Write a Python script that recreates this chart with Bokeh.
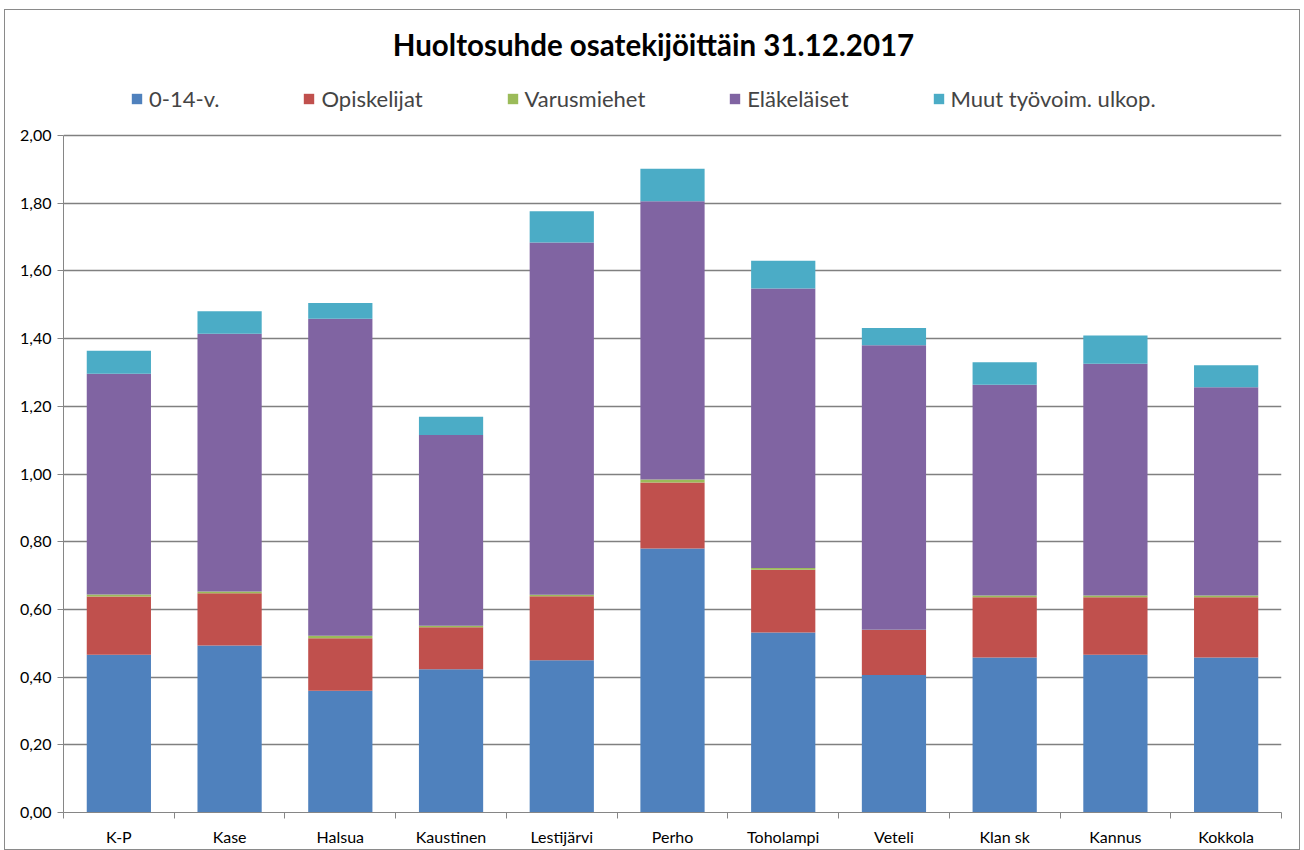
from bokeh.plotting import figure
from bokeh.models import ColumnDataSource, Legend, LegendItem, FixedTicker, Range1d, Label
from bokeh.embed import file_html
from bokeh.resources import INLINE

categories = ["K-P", "Kase", "Halsua", "Kaustinen", "Lestijärvi", "Perho",
              "Toholampi", "Veteli", "Klan sk", "Kannus", "Kokkola"]
lapset      = [0.466, 0.493, 0.360, 0.423, 0.450, 0.780, 0.532, 0.406, 0.458, 0.466, 0.458]
opiskelijat = [0.172, 0.155, 0.155, 0.124, 0.189, 0.195, 0.185, 0.133, 0.178, 0.170, 0.178]
varusmiehet = [0.006, 0.005, 0.007, 0.005, 0.004, 0.009, 0.005, 0.001, 0.005, 0.005, 0.005]
elakelaiset = [0.652, 0.761, 0.937, 0.563, 1.041, 0.822, 0.826, 0.840, 0.623, 0.685, 0.615]
muut        = [0.068, 0.067, 0.046, 0.054, 0.092, 0.096, 0.082, 0.051, 0.066, 0.083, 0.065]

series_keys = ["lapset", "opiskelijat", "varusmiehet", "elakelaiset", "muut"]
series_names = ["0-14-v.", "Opiskelijat", "Varusmiehet", "Eläkeläiset", "Muut työvoim. ulkop."]
colors = ["#4F81BD", "#C0504D", "#9BBB59", "#8064A2", "#4BACC6"]

y_ticks = [0.0, 0.2, 0.4, 0.6, 0.8, 1.0, 1.2, 1.4, 1.6, 1.8, 2.0]
y_tick_labels = ["0,00", "0,20", "0,40", "0,60", "0,80", "1,00", "1,20", "1,40", "1,60", "1,80", "2,00"]
title_text = "Huoltosuhde osatekijöittäin 31.12.2017"

FONT = "Lato"
AXIS_MAX = 2.0
# the frame reaches up to the figure top so that title and legend can sit inside it;
# the value axis itself is bounded to 0..2,00
FRAME_TOP_PX, AXIS_TOP_PX, AXIS_BOTTOM_PX = 0, 125, 802
Y_TOP = AXIS_MAX * (AXIS_BOTTOM_PX - FRAME_TOP_PX) / (AXIS_BOTTOM_PX - AXIS_TOP_PX)

xs = list(range(len(categories)))
source = ColumnDataSource(dict(x=xs, lapset=lapset, opiskelijat=opiskelijat,
                               varusmiehet=varusmiehet, elakelaiset=elakelaiset, muut=muut))

p = figure(width=1296, height=841, output_backend="svg", toolbar_location=None,
           x_range=Range1d(-0.5, len(categories) - 0.5), y_range=Range1d(0, Y_TOP),
           min_border_left=58, min_border_right=20, min_border_top=0, min_border_bottom=39)
p.styles = {"border": "1px solid #8a8a8a", "margin-left": "4px", "margin-top": "9px"}

renderers = p.vbar_stack(series_keys, x="x", width=0.58, source=source,
                         color=colors, line_color=None)

p.outline_line_color = None
p.xgrid.grid_line_color = None
p.ygrid.grid_line_color = "#808080"
p.ygrid.grid_line_width = 1.3
p.ygrid.ticker = FixedTicker(ticks=y_ticks)

p.yaxis.ticker = FixedTicker(ticks=y_ticks)
p.yaxis.bounds = (0, AXIS_MAX)
p.yaxis.major_label_overrides = {t: l for t, l in zip(y_ticks, y_tick_labels)}
p.yaxis.major_tick_out = 6
p.yaxis.major_tick_in = 0
p.yaxis.minor_tick_out = 0
p.yaxis.minor_tick_in = 0
p.yaxis.axis_line_color = "#868686"
p.yaxis.major_tick_line_color = "#868686"
p.yaxis.major_label_text_font = FONT
p.yaxis.major_label_text_font_size = "16px"
p.yaxis.major_label_text_color = "#000000"
p.yaxis.major_label_standoff = 6

p.xaxis.ticker = FixedTicker(ticks=xs, minor_ticks=[i - 0.5 for i in range(len(categories) + 1)])
p.xaxis.major_label_overrides = {i: c for i, c in enumerate(categories)}
p.xaxis.major_tick_out = 0
p.xaxis.major_tick_in = 0
p.xaxis.minor_tick_out = 6
p.xaxis.minor_tick_in = 0
p.xaxis.axis_line_color = "#868686"
p.xaxis.minor_tick_line_color = "#868686"
p.xaxis.major_label_text_font = FONT
p.xaxis.major_label_text_font_size = "16px"
p.xaxis.major_label_text_color = "#000000"
p.xaxis.major_label_standoff = 8

items = [LegendItem(label=n, renderers=[r]) for n, r in zip(series_names, renderers)]
legend = Legend(items=items, orientation="horizontal", location=(67, 700),
                label_text_font=FONT, label_text_font_size="22px",
                glyph_width=13, glyph_height=13, label_standoff=6, spacing=83,
                border_line_color=None, background_fill_alpha=0, padding=6, margin=0)
p.add_layout(legend)

title = Label(x=590, y=768, x_units="screen", y_units="screen", text=title_text,
              text_align="center", text_baseline="middle", text_font=FONT,
              text_font_size="29.5px", text_font_style="bold", text_color="#000000")
p.add_layout(title)

open("out.html", "w").write(file_html(p, INLINE))
